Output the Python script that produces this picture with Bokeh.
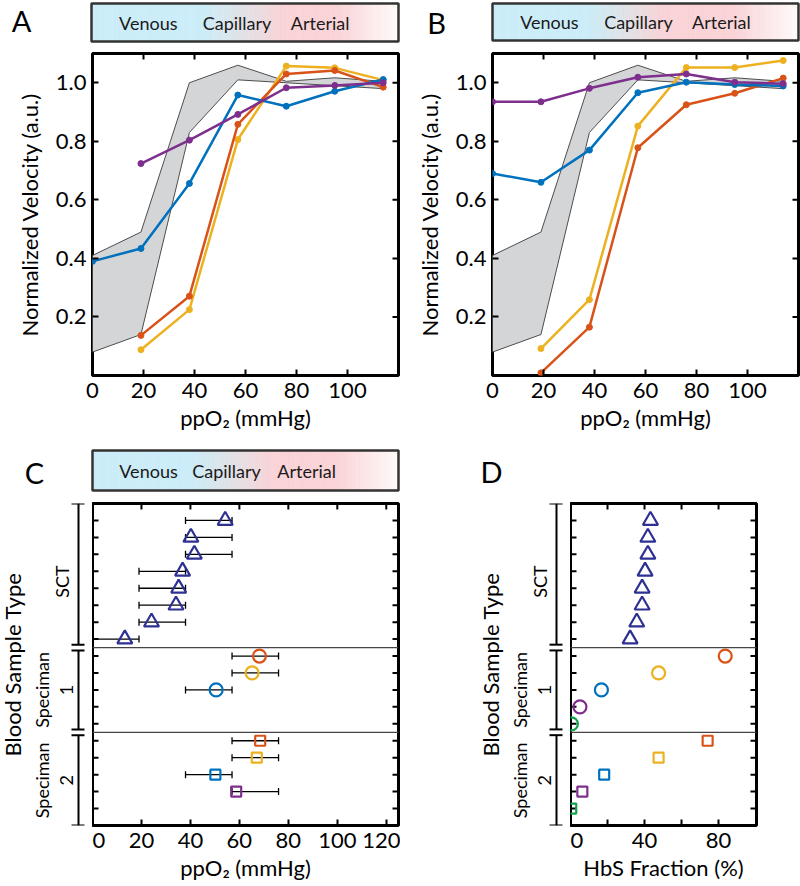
import numpy as np
from bokeh.plotting import figure
from bokeh.models import (Range1d, FixedTicker, Span, Whisker,
                          ColumnDataSource, TeeHead, NumeralTickFormatter)
from bokeh.layouts import row, column
from bokeh.embed import file_html
from bokeh.resources import INLINE
from bokeh.core.properties import value

nan = float("nan")
FONT = "Lato"

# ---------------- data: panels A and B ----------------
ppo2 = [0, 19, 38, 57, 76, 95, 114]
band_upper = [0.41, 0.49, 1.00, 1.06, 1.005, 1.017, 1.005]
band_lower = [0.08, 0.14, 0.83, 1.01, 1.000, 0.990, 0.980]

a_blue = [0.39, 0.434, 0.656, 0.958, 0.92, 0.971, 1.011]
a_purple = [nan, 0.724, 0.804, 0.892, 0.983, 0.991, 1.0]
a_red = [nan, 0.137, 0.271, 0.858, 1.03, 1.042, 0.985]
a_yellow = [nan, 0.088, 0.225, 0.806, 1.057, 1.051, 1.009]

b_blue = [0.69, 0.66, 0.77, 0.966, 1.002, 0.994, 0.989]
b_purple = [0.935, 0.935, 0.981, 1.019, 1.03, 1.002, 0.997]
b_red = [nan, 0.009, 0.165, 0.778, 0.925, 0.964, 1.016]
b_yellow = [nan, 0.092, 0.259, 0.852, 1.052, 1.052, 1.076]

x_ticks_ab = [0, 20, 40, 60, 80, 100]
y_ticks_ab = [0.2, 0.4, 0.6, 0.8, 1.0]

# ---------------- data: panels C and D ----------------
sct_rows = [18, 17, 16, 15, 14, 13, 12, 11]
sct_ppo2 = [54.2, 40.2, 41.6, 36.8, 35.2, 34.1, 24.1, 13.2]
sct_lo = [38, 38, 38, 19, 19, 19, 19, 0]
sct_hi = [57, 57, 57, 38, 38, 38, 38, 19]
sct_hbs = [43.2, 41.8, 41.8, 40.3, 38.7, 38.7, 35.8, 32.2]

spec_colors = ["#D95319", "#EDB120", "#0072BD", "#7E2F8E", "#12A24B"]
spec1_rows = [10, 9, 8, 7, 6]
spec1_ppo2 = [68.2, 65.2, 50.5, nan, nan]
spec1_lo = [57, 57, 38, nan, nan]
spec1_hi = [76, 76, 57, nan, nan]
spec1_hbs = [83.6, 47.6, 16.7, 5.1, 0.5]

spec2_rows = [5, 4, 3, 2, 1]
spec2_ppo2 = [68.5, 67.1, 50.2, 58.7, nan]
spec2_lo = [57, 57, 38, 57, nan]
spec2_hi = [76, 76, 57, 76, nan]
spec2_hbs = [74.1, 47.6, 18.2, 6.4, 0.4]

row_ticks = list(range(1, 19))
group_breaks = [10.5, 5.5]
group_names = ["SCT", "Speciman", "Speciman"]
group_nums = ["1", "2"]
x_ticks_c = [0, 20, 40, 60, 80, 100, 120]
x_ticks_d = [0, 20, 40, 60, 80]

bar_words = ["Venous", "Capillary", "Arterial"]

C_BLUE, C_RED, C_YEL, C_PUR = "#0072BD", "#D95319", "#EDB120", "#7E2F8E"
C_TRI = "#2E3192"

BLUE_RGB = (203, 237, 249)
GRAY_RGB = (226, 226, 230)
PINK_RGB = (250, 211, 215)
WHITE_RGB = (255, 251, 249)


def style_axis(ax, ticks):
    ax.ticker = FixedTicker(ticks=ticks)
    ax.major_tick_in = 6
    ax.major_tick_out = 0
    ax.major_tick_line_width = 2
    ax.major_tick_line_color = "black"
    ax.minor_tick_line_color = None
    ax.axis_line_color = None
    ax.major_label_text_font = FONT
    ax.major_label_text_font_size = "22px"
    ax.major_label_text_color = "black"
    ax.major_label_standoff = 7
    ax.axis_label_text_font = FONT
    ax.axis_label_text_font_size = "22px"
    ax.axis_label_text_font_style = "normal"
    ax.axis_label_text_color = "black"


def inner_ticks(p, xs, ys, angle):
    p.ray(x=xs, y=ys, length=6, angle=angle, length_units="screen",
          line_color="black", line_width=2)


def base_fig(width, height, xr, yr, mb, yaxis=True):
    p = figure(width=width, height=height, x_range=xr, y_range=yr,
               toolbar_location=None, output_backend="svg",
               y_axis_location="left" if yaxis else None,
               min_border_left=mb[0], min_border_right=mb[1],
               min_border_top=mb[2], min_border_bottom=mb[3])
    p.grid.visible = False
    p.outline_line_color = "black"
    p.outline_line_width = 3
    p.background_fill_color = "white"
    p.border_fill_color = "white"
    return p


def blank_fig(width, height, xr, yr):
    p = figure(width=width, height=height, x_range=xr, y_range=yr,
               toolbar_location=None, output_backend="svg",
               x_axis_location=None, y_axis_location=None, min_border=0,
               min_border_left=0, min_border_right=0, min_border_top=0,
               min_border_bottom=0)
    p.grid.visible = False
    p.outline_line_color = None
    p.border_fill_color = "white"
    p.background_fill_color = "white"
    return p


def gradient_bar(p, x0, x1, y0, y1, pos, rgb, word_frac, n=160):
    edges = np.linspace(x0, x1, n + 1)
    fr = np.linspace(0, 1, n + 1)
    mids = (fr[:-1] + fr[1:]) / 2
    chans = [np.interp(mids, pos, [c[k] for c in rgb]) for k in range(3)]
    cols = ["#%02x%02x%02x" % (int(r), int(g), int(b)) for r, g, b in zip(*chans)]
    p.quad(left=edges[:-1], right=edges[1:], bottom=y1, top=y0,
           fill_color=cols, line_color=cols, line_width=0.6)
    p.quad(left=[x0], right=[x1], bottom=[y1], top=[y0], fill_color=None,
           line_color="#333333", line_width=2.5)
    wx = [x0 + f * (x1 - x0) for f in word_frac]
    p.text(x=wx, y=[(y0 + y1) / 2] * len(bar_words), text=bar_words,
           text_font=value(FONT), text_font_size="18px", text_align="center",
           text_baseline="middle", text_color="#1a1a1a")


def letters(p, xs, ys, ts):
    p.text(x=xs, y=ys, text=ts, text_font=value(FONT), text_font_size="29px",
           text_align="center", text_baseline="middle", text_color="black")


# ---------------- top band (gradient bars A, B) ----------------
band1 = blank_fig(800, 50, Range1d(0, 800), Range1d(50, 0))
gradient_bar(band1, 91, 398, 3, 41, [0, 0.36, 0.50, 0.62, 0.80, 1.0],
             [BLUE_RGB, BLUE_RGB, GRAY_RGB, PINK_RGB, PINK_RGB, WHITE_RGB],
             [0.185, 0.474, 0.745])
gradient_bar(band1, 492, 798, 3, 40, [0, 0.31, 0.44, 0.56, 0.79, 1.0],
             [BLUE_RGB, BLUE_RGB, GRAY_RGB, PINK_RGB, PINK_RGB, WHITE_RGB],
             [0.186, 0.477, 0.748])
letters(band1, [21, 436], [20, 22], ["A", "B"])


# ---------------- panels A, B ----------------
def velocity_panel(series):
    xr, yr = Range1d(0, 120), Range1d(0, 1.1)
    p = base_fig(400, 390, xr, yr, (92, 2, 3, 65))
    style_axis(p.xaxis[0], x_ticks_ab)
    style_axis(p.yaxis[0], y_ticks_ab)
    p.yaxis[0].formatter = NumeralTickFormatter(format="0.0")
    p.yaxis[0].major_label_standoff = 6
    p.xaxis[0].axis_label = "ppO\u2082 (mmHg)"
    p.xaxis[0].axis_label_standoff = 3
    p.yaxis[0].axis_label = "Normalized Velocity (a.u.)"
    p.yaxis[0].axis_label_standoff = 10
    p.patch(ppo2 + ppo2[::-1], band_upper + band_lower[::-1],
            fill_color="#d4d5d7", line_color="#4d4d4d", line_width=1)
    for ys, c in series:
        p.line(ppo2, ys, line_color=c, line_width=2.5)
        p.scatter(ppo2, ys, size=6, fill_color=c, line_color=c)
    top_t = x_ticks_ab[1:]
    inner_ticks(p, top_t, [yr.end] * len(top_t), -np.pi / 2)
    inner_ticks(p, [xr.end] * len(y_ticks_ab), y_ticks_ab, np.pi)
    return p


plotA = velocity_panel([(a_yellow, C_YEL), (a_red, C_RED),
                        (a_blue, C_BLUE), (a_purple, C_PUR)])
plotB = velocity_panel([(b_yellow, C_YEL), (b_red, C_RED),
                        (b_blue, C_BLUE), (b_purple, C_PUR)])

# ---------------- bottom band (gradient bar C) ----------------
band2 = blank_fig(758, 58, Range1d(0, 758), Range1d(498, 440))
gradient_bar(band2, 92, 398, 450, 490, [0, 0.32, 0.46, 0.59, 0.80, 1.0],
             [BLUE_RGB, BLUE_RGB, GRAY_RGB, PINK_RGB, PINK_RGB, WHITE_RGB],
             [0.183, 0.438, 0.70])
letters(band2, [34, 491], [472, 471], ["C", "D"])

ROW2_H = 386
ROW2_MB = (5, 59)


def row_panel(width, xmax, xticks, label):
    xr, yr = Range1d(0, xmax), Range1d(0, 19)
    p = base_fig(width, ROW2_H, xr, yr, (0, 2) + ROW2_MB, yaxis=False)
    style_axis(p.xaxis[0], xticks)
    p.xaxis[0].axis_label = label
    p.xaxis[0].axis_label_standoff = 3
    for b in group_breaks:
        p.add_layout(Span(location=b, dimension="width", line_color="#444444",
                          line_width=1.2))
    inner_ticks(p, [0] * len(row_ticks), row_ticks, 0)
    inner_ticks(p, [xmax] * len(row_ticks), row_ticks, np.pi)
    top_t = [t for t in xticks if t > 0]
    inner_ticks(p, top_t, [19] * len(top_t), -np.pi / 2)
    return p


def add_whiskers(p, rows, lo, hi):
    keep = [i for i in range(len(rows)) if not np.isnan(lo[i])]
    src = ColumnDataSource(dict(y=[rows[i] for i in keep], lo=[lo[i] for i in keep],
                                hi=[hi[i] for i in keep]))
    p.add_layout(Whisker(source=src, base="y", lower="lo", upper="hi",
                         dimension="width", line_color="black", line_width=1.3,
                         upper_head=TeeHead(size=7, line_width=1.3, line_color="black"),
                         lower_head=TeeHead(size=7, line_width=1.3, line_color="black"),
                         level="underlay"))


def add_markers(p, tri_x, c1_x, c2_x):
    p.scatter(tri_x, sct_rows, marker="triangle", size=15, fill_color=None,
              line_color=C_TRI, line_width=2.2)
    p.scatter(c1_x, spec1_rows, marker="circle", size=13, fill_color=None,
              line_color=spec_colors[:len(spec1_rows)], line_width=2.2)
    p.scatter(c2_x, spec2_rows, marker="square", size=10, fill_color=None,
              line_color=spec_colors[:len(spec2_rows)], line_width=2.2)


plotC = row_panel(308, 125, x_ticks_c, "ppO\u2082 (mmHg)")
add_whiskers(plotC, sct_rows, sct_lo, sct_hi)
add_whiskers(plotC, spec1_rows, spec1_lo, spec1_hi)
add_whiskers(plotC, spec2_rows, spec2_lo, spec2_hi)
add_markers(plotC, sct_ppo2, spec1_ppo2, spec2_ppo2)

plotD = row_panel(188, 100.5, x_ticks_d, "HbS Fraction (%)")
plotD.xaxis[0].major_label_overrides = {20: "", 60: ""}
add_markers(plotD, sct_hbs, spec1_hbs, spec2_hbs)


def bracket_fig(width, yr):
    p = blank_fig(width, ROW2_H, Range1d(-width, 0), yr)
    p.min_border_top = ROW2_MB[0]
    p.min_border_bottom = ROW2_MB[1]
    lo, hi = yr.start, yr.end
    gap = 0.17
    bounds = [hi] + [v for b in group_breaks for v in (b + gap, b - gap)] + [lo]
    tops = bounds[0::2]
    bots = bounds[1::2]
    p.segment(x0=[-14] * 3, x1=[-14] * 3, y0=bots, y1=tops,
              line_color="black", line_width=2)
    ends = tops + bots
    p.segment(x0=[-21] * 6, x1=[-8] * 6, y0=ends, y1=ends,
              line_color="black", line_width=2)
    label_y = [14.4, (tops[1] + bots[1]) / 2, (tops[2] + bots[2]) / 2]
    p.text(x=[-31, -51, -51], y=label_y, text=group_names, angle=np.pi / 2,
           text_font=value(FONT), text_font_size="18px", text_align="center",
           text_baseline="middle", text_color="black")
    p.text(x=[-26, -26], y=label_y[1:], text=group_nums, angle=np.pi / 2,
           text_font=value(FONT), text_font_size="18px", text_align="center",
           text_baseline="middle", text_color="black")
    p.text(x=[-80], y=[(lo + hi) / 2], text=["Blood Sample Type"], angle=np.pi / 2,
           text_font=value(FONT), text_font_size="22px", text_align="center",
           text_baseline="middle", text_color="black")
    return p


leftC = bracket_fig(92, plotC.y_range)
leftD = bracket_fig(170, plotD.y_range)

layout = column(
    band1,
    row(plotA, plotB),
    band2,
    row(leftC, plotC, leftD, plotD),
)

open("out.html", "w").write(file_html(layout, INLINE))
